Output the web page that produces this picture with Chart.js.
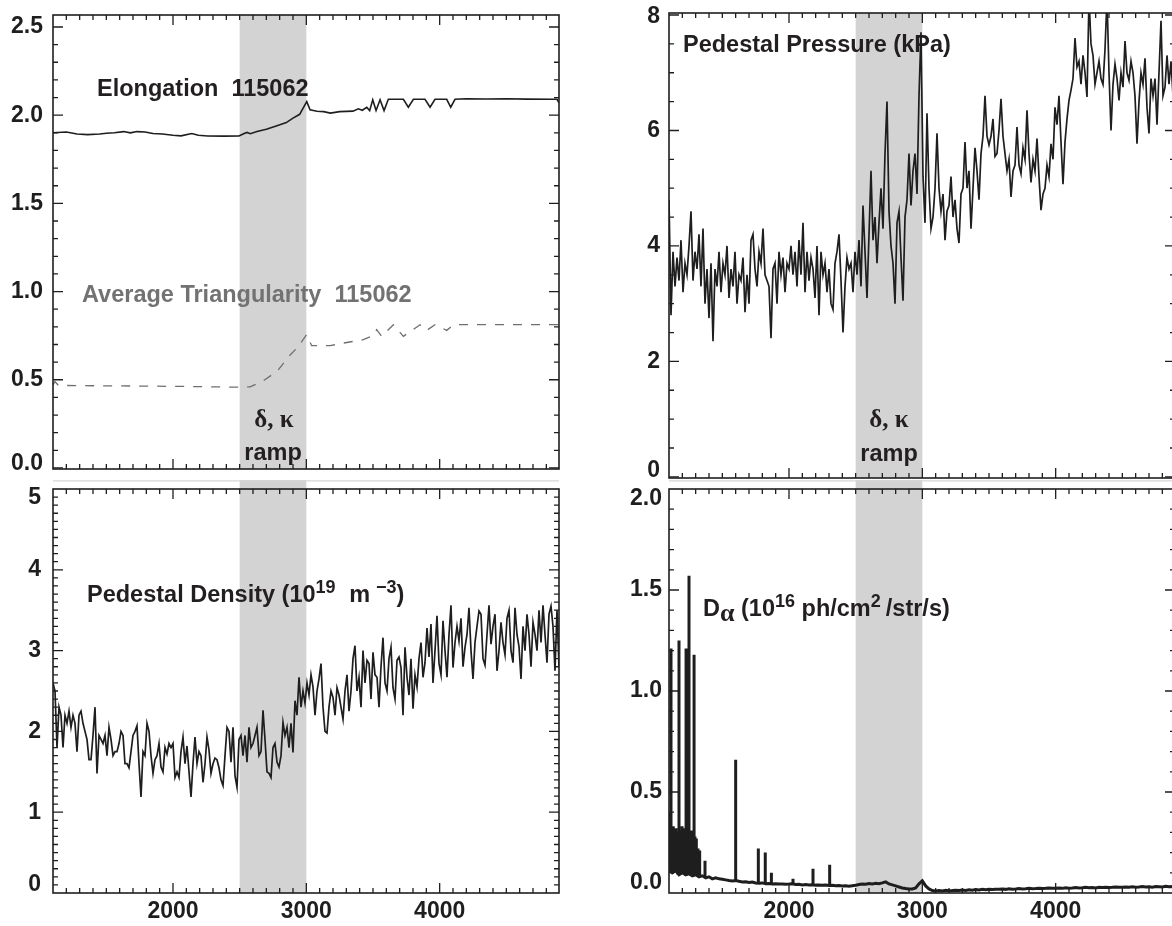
<!DOCTYPE html>
<html>
<head>
<meta charset="utf-8">
<script src="https://cdn.jsdelivr.net/npm/chart.js@4.4.1/dist/chart.umd.min.js"></script>
<style>
  html, body { margin: 0; padding: 0; background: #fff; overflow: hidden; width: 1172px; height: 926px; }
  #wrap { position: relative; width: 1172px; height: 926px; overflow: hidden; }
  canvas { position: absolute; }
  .lbl { position: absolute; font-family: "Liberation Sans", Arial, sans-serif; font-weight: bold; font-size: 23.5px; line-height: 1; white-space: pre; color: #231f20; }
  .grey { color: #727272; }
  .greek { font-family: "Liberation Serif", "DejaVu Serif", serif; font-size: 25px; text-align: center; width: 100px; }
  .ramp { text-align: center; width: 100px; }
  .lbl sup { font-size: 18px; vertical-align: 0; position: relative; top: -9px; line-height: 0; }
  .lbl sub { font-family: "Liberation Serif", serif; font-size: 26px; vertical-align: 0; position: relative; top: 5px; line-height: 0; }
</style>
</head>
<body>
<div id="wrap">
  <canvas id="elongChart" width="572" height="480" style="left:0;top:0"></canvas>
  <canvas id="densityChart" width="572" height="446" style="left:0;top:480px"></canvas>
  <canvas id="pressureChart" width="590" height="480" style="left:600px;top:0"></canvas>
  <canvas id="dalphaChart" width="590" height="446" style="left:600px;top:480px"></canvas>

  <div class="lbl" style="left:97px;top:77px">Elongation  115062</div>
  <div class="lbl grey" style="left:82px;top:283px">Average Triangularity  115062</div>
  <div class="lbl greek" style="left:224px;top:406px">δ, κ</div>
  <div class="lbl ramp" style="left:223px;top:441px">ramp</div>
  <div class="lbl" style="left:87px;top:583px">Pedestal Density (10<sup style="margin-right:7px">19</sup> m<sup style="margin-left:6px">−3</sup>)</div>

  <div class="lbl" style="left:683px;top:33px">Pedestal Pressure (kPa)</div>
  <div class="lbl greek" style="left:839px;top:406px">δ, κ</div>
  <div class="lbl ramp" style="left:839px;top:442px">ramp</div>
  <div class="lbl" style="left:703px;top:597px">D<sub>α</sub> (10<sup>16</sup> ph/cm<sup style="margin-right:5px">2</sup>/str/s)</div>
</div>

<script>
// time axis (ms) and the shaded delta/kappa ramp window
const timeMin = 1100;
const timeMax = 4895;
const rampStart = 2500;
const rampEnd = 3000;

const xMajorTicks = [2000, 3000, 4000];
const xMinorStep = 100;

const elongTicks = [0, 0.5, 1.0, 1.5, 2.0, 2.5];
const densityTicks = [0, 1, 2, 3, 4, 5];
const pressureTicks = [0, 2, 4, 6, 8];
const dalphaTicks = [0, 0.5, 1.0, 1.5, 2.0];

// elongation, shot 115062
const elongTime = [1100, 1200, 1280, 1360, 1450, 1500, 1560, 1630, 1680, 1730, 1790, 1850, 1920, 2000, 2060, 2140, 2190, 2260, 2380, 2495,
  2530, 2555, 2580, 2630, 2700, 2780, 2850, 2900, 2950, 3003, 3028, 3080, 3130, 3180, 3250, 3350, 3390, 3420, 3453, 3475,
  3498, 3523, 3553, 3583, 3615, 3680, 3728, 3765, 3803, 3850, 3890, 3928, 3965, 4010, 4053, 4083, 4115, 4200, 4350, 4500,
  4650, 4853, 4880, 4895];
const elongValue = [1.900, 1.905, 1.893, 1.890, 1.893, 1.898, 1.900, 1.907, 1.900, 1.907, 1.905, 1.896, 1.893, 1.886, 1.883, 1.896, 1.886, 1.882, 1.881, 1.882,
  1.895, 1.902, 1.895, 1.907, 1.920, 1.940, 1.958, 1.983, 2.005, 2.077, 2.030, 2.022, 2.020, 2.012, 2.020, 2.023, 2.036, 2.028, 2.045, 2.026,
  2.087, 2.026, 2.087, 2.026, 2.090, 2.090, 2.090, 2.045, 2.090, 2.090, 2.090, 2.045, 2.090, 2.090, 2.090, 2.045, 2.090, 2.093, 2.092, 2.093,
  2.091, 2.090, 2.090, 2.070];

// average triangularity, shot 115062
const triTime = [1100, 1115, 1140, 1400, 1800, 2078, 2495, 2578, 2668, 2780, 2880, 2930, 3003, 3040, 3178, 3278, 3428, 3500, 3528, 3565,
  3653, 3728, 3853, 3903, 3965, 4053, 4103, 4895];
const triValue = [0.470, 0.490, 0.468, 0.466, 0.464, 0.462, 0.458, 0.460, 0.490, 0.547, 0.642, 0.680, 0.756, 0.693, 0.693, 0.708, 0.727, 0.750, 0.784, 0.746,
  0.812, 0.746, 0.812, 0.780, 0.812, 0.780, 0.812, 0.812];

// pedestal density (1e19 m^-3), sampled every 15 ms from 1100
const densityStart = 1100;
const densityStep = 15;
const densityValue = [
  2.6, 2.5, 1.8, 2.3, 2.2, 1.8, 2.2, 2.1, 2.25, 2.05,
  2.2, 2.1, 1.75, 2.2, 2.25, 2.1, 2.0, 1.9, 1.65, 1.65,
  1.95, 2.3, 1.48, 1.95, 1.9, 1.85, 1.95, 1.7, 2.05, 1.9,
  1.7, 1.75, 1.75, 1.85, 2.0, 1.95, 1.6, 1.6, 1.55, 1.75,
  1.95, 2.0, 2.07, 1.6, 1.19, 1.75, 1.7, 2.1, 2.0, 1.7,
  1.48, 1.65, 1.7, 1.85, 1.56, 1.5, 1.8, 1.72, 1.85, 1.8,
  1.85, 1.43, 1.5, 1.43, 1.75, 1.93, 1.6, 1.82, 1.5, 1.19,
  1.6, 1.93, 1.6, 1.75, 1.7, 1.37, 1.6, 1.93, 1.77, 1.48,
  1.6, 1.67, 1.65, 1.55, 1.4, 1.33, 1.7, 2.05, 2.0, 1.62,
  2.05, 1.45, 1.31, 1.9, 1.95, 1.7, 1.95, 1.62, 2.05, 1.8,
  1.85, 1.95, 2.05, 1.7, 1.75, 2.26, 1.9, 1.5, 1.48, 1.43,
  1.8, 1.85, 1.62, 1.56, 1.7, 2.11, 1.95, 2.05, 1.8, 2.1,
  1.74, 2.38, 2.2, 2.67, 2.3, 2.5, 2.35, 2.6,
  2.45, 2.7, 2.55, 2.2, 2.5, 2.65, 2.84, 2.3, 2.0, 1.98,
  2.3, 2.5, 2.42, 2.2, 2.54, 2.45, 2.3, 2.15, 2.5, 2.7,
  2.25, 2.5, 2.9, 3.06, 2.5, 2.67, 2.3, 3.0, 2.6, 2.88,
  2.84, 2.4, 2.98, 2.7, 2.67, 2.3, 2.8, 3.16, 2.6, 2.5,
  2.9, 3.04, 2.54, 2.4, 2.88, 2.92, 2.79, 2.2, 3.04, 2.67,
  2.45, 2.9, 2.28, 2.7, 2.55, 2.9, 3.1, 2.67, 2.85, 3.28,
  2.92, 3.33, 2.6, 3.0, 3.43, 2.84, 2.7, 3.37, 3.0, 2.67,
  3.2, 3.56, 2.79, 3.1, 3.3, 3.12, 3.4, 2.8, 3.04, 3.2,
  3.53, 3.0, 2.65, 3.1, 3.3, 3.49, 3.45, 2.9, 2.82, 3.2,
  3.56, 3.08, 3.3, 3.45, 2.75, 3.0, 3.35, 3.1, 2.95, 3.4,
  3.5, 3.0, 2.85, 3.53, 3.2, 3.05, 2.65, 3.3, 3.0, 3.45,
  3.2, 2.8, 3.35, 3.2, 3.0, 3.5, 3.1, 3.56, 3.2, 2.85,
  3.45, 3.55, 3.3, 2.75, 3.5, 2.8
];

// pedestal pressure (kPa), sampled every 15 ms from 1100
const pressureStart = 1100;
const pressureStep = 15;
const pressureValue = [
  4.8, 2.8, 3.9, 3.3, 3.8, 3.4, 4.1, 3.2, 3.7, 3.5,
  4.0, 4.6, 3.4, 3.9, 3.6, 4.2, 3.3, 4.3, 3.0, 3.6,
  2.75, 3.7, 2.35, 3.6, 3.3, 3.9, 3.2, 3.7, 3.5, 4.0,
  3.1, 3.6, 3.3, 3.9, 3.0, 3.5, 3.4, 3.8, 2.85, 3.5,
  3.0, 4.1, 4.2, 3.6, 3.3, 3.9, 3.7, 4.3, 3.5, 3.4,
  3.3, 2.4, 3.6, 3.7, 3.0, 3.9, 3.5, 3.8, 3.2, 3.7,
  3.6, 4.0, 3.5, 3.9, 3.3, 4.1, 3.5, 4.4, 3.2, 3.9,
  3.4, 3.8, 3.6, 3.1, 4.0, 2.8, 3.9, 3.5, 3.7, 3.2,
  3.6, 3.0, 2.9, 3.7, 3.9, 4.2, 3.4, 2.5, 3.3, 3.8,
  3.6, 3.7, 3.2, 3.9, 3.5, 4.1, 3.3, 4.7, 3.9, 3.1,
  4.2, 5.3, 4.1, 4.5, 3.7, 4.4, 5.0, 4.3, 5.6, 6.5,
  4.6, 4.0, 3.7, 3.0, 4.4, 4.6, 3.8, 3.05, 4.5, 4.8,
  5.6, 4.7, 5.3, 5.6, 4.9, 6.6, 7.7, 5.2, 4.4, 6.3,
  5.0, 4.3, 4.5, 5.0, 5.95, 5.0, 4.6, 4.9, 4.1, 4.6,
  4.7, 5.2, 4.5, 4.8, 4.3, 4.05, 4.9, 5.0, 5.8, 5.0,
  5.3, 4.3, 5.0, 5.7, 5.3, 4.8, 5.6, 5.9, 6.6, 5.9,
  5.75, 5.9, 6.2, 5.55, 5.6, 6.0, 6.55, 5.9, 5.6, 5.3,
  5.5, 4.85, 5.3, 5.4, 6.06, 5.4, 5.25, 5.7, 5.5, 6.35,
  5.6, 5.1, 5.5, 5.3, 5.86, 5.2, 4.62, 4.9, 5.0, 5.4,
  5.2, 5.77, 5.5, 6.4, 6.1, 6.6, 5.8, 5.07, 5.8, 6.2,
  6.52, 6.7, 6.9, 7.6, 7.1, 7.2, 6.8, 7.3, 7.0, 6.58,
  8.3, 7.5, 7.3, 6.8, 7.0, 7.2, 6.9, 6.8, 7.4, 8.3,
  7.0, 6.0, 6.8, 7.15, 6.9, 6.52, 7.0, 6.75, 7.55, 7.0,
  6.87, 7.2, 7.0, 6.6, 5.77, 6.5, 7.0, 6.8, 7.25, 6.4,
  5.95, 6.9, 6.6, 6.9, 6.1, 7.0, 7.9, 6.6, 6.75, 7.3,
  6.8, 7.2, 6.6, 7.0
];

// D-alpha (1e16 ph/cm^2/str/s): slow baseline every 25 ms plus ELM spikes
const dalphaStart = 1100;
const dalphaStep = 25;
const dalphaBase = [
  0.12, 0.10, 0.11, 0.09, 0.10, 0.09, 0.095, 0.085, 0.09, 0.08, 0.085, 0.075, 0.08, 0.07, 0.075, 0.07,
  0.068, 0.065, 0.062, 0.06, 0.062, 0.058, 0.055, 0.056, 0.052, 0.054, 0.05, 0.048, 0.05, 0.046, 0.047, 0.045, 0.046, 0.044, 0.045, 0.043,
  0.044, 0.046, 0.042, 0.043, 0.04, 0.042, 0.04, 0.041, 0.039, 0.04, 0.038, 0.04, 0.037, 0.038, 0.036, 0.037, 0.035, 0.036, 0.034, 0.036,
  0.038, 0.042, 0.045, 0.043, 0.047, 0.045, 0.048, 0.046, 0.05, 0.055, 0.045, 0.04, 0.035, 0.03, 0.025, 0.022, 0.02, 0.02, 0.025, 0.045,
  0.06, 0.035, 0.02, 0.012, 0.01, 0.012, 0.01, 0.013, 0.011, 0.012, 0.014, 0.012, 0.015, 0.013, 0.016, 0.014, 0.017, 0.015, 0.018, 0.016,
  0.018, 0.017, 0.019, 0.018, 0.02, 0.018, 0.021, 0.019, 0.02, 0.022, 0.02, 0.021, 0.023, 0.021, 0.022, 0.024, 0.022, 0.023, 0.025, 0.023,
  0.024, 0.025, 0.023, 0.026, 0.024, 0.025, 0.027, 0.025, 0.026, 0.028, 0.026, 0.027, 0.025, 0.028, 0.027, 0.029, 0.027, 0.028, 0.03, 0.028,
  0.029, 0.03, 0.028, 0.031, 0.029, 0.03, 0.032, 0.03, 0.031, 0.029, 0.032, 0.031, 0.03, 0.033, 0.031, 0.032, 0.03
];
const spikeTime = [1102, 1108, 1115, 1120, 1126, 1132, 1138, 1145, 1152, 1160, 1168, 1175, 1182, 1190, 1198, 1205, 1212, 1220, 1228, 1236,
  1243, 1250, 1257, 1264, 1272, 1280, 1288, 1295, 1305, 1318, 1330, 1370, 1600, 1770, 1822, 1868, 2030, 2180, 2305];
const spikeValue = [0.40, 0.30, 1.21, 0.32, 0.28, 0.33, 0.30, 0.27, 0.32, 0.30, 0.29, 1.25, 0.31, 0.29, 0.33, 0.30, 0.28, 0.32, 1.21, 0.30,
  0.31, 1.57, 0.30, 0.28, 0.31, 0.29, 1.18, 0.28, 0.27, 0.22, 0.21, 0.16, 0.66, 0.22, 0.20, 0.10, 0.07, 0.12, 0.14];

const inkColor = "#1e1e1e";
const fontFamily = '"Liberation Sans", Arial, sans-serif';
const tickFont = { family: fontFamily, weight: "bold", size: 23 };

function pairPoints(times, values) {
  return times.map((t, i) => ({ x: t, y: values[i] }));
}

function sampledPoints(start, step, values) {
  return values.map((v, i) => ({ x: start + i * step, y: v }));
}

function spikePoints() {
  const points = [];
  spikeTime.forEach((t, i) => {
    const base = dalphaBase[Math.round((t - dalphaStart) / dalphaStep)];
    points.push({ x: t, y: base }, { x: t, y: spikeValue[i] }, { x: t, y: null });
  });
  return points;
}

// shaded ramp window, inward IDL-style ticks, box frame and y labels kept inside the box
const idlFrame = {
  id: "idlFrame",
  beforeDatasetsDraw(chart, args, opts) {
    const { ctx, chartArea, scales } = chart;
    const x0 = scales.x.getPixelForValue(rampStart);
    const x1 = scales.x.getPixelForValue(rampEnd);
    const bleed = opts.bleedTop || 0;
    ctx.save();
    ctx.fillStyle = "#d3d3d3";
    ctx.fillRect(x0, chartArea.top - bleed, x1 - x0, chartArea.bottom - chartArea.top + bleed);
    if (bleed) {
      ctx.strokeStyle = "#d6d6d6";
      ctx.lineWidth = 1.2;
      ctx.beginPath();
      ctx.moveTo(chartArea.left, chartArea.top - bleed + 0.8);
      ctx.lineTo(chartArea.right, chartArea.top - bleed + 0.8);
      ctx.stroke();
    }
    ctx.restore();
  },
  afterDraw(chart, args, opts) {
    const { ctx, chartArea, scales } = chart;
    const { left, right, top, bottom } = chartArea;
    ctx.save();
    ctx.strokeStyle = inkColor;
    ctx.lineWidth = 1.3;
    ctx.beginPath();

    for (let t = timeMin; t <= timeMax; t += xMinorStep) {
      const px = scales.x.getPixelForValue(t);
      if (px <= left + 1 || px >= right - 1) continue;
      const len = xMajorTicks.includes(t) ? 10 : 5;
      ctx.moveTo(px, bottom);
      ctx.lineTo(px, bottom - len);
      ctx.moveTo(px, top);
      ctx.lineTo(px, top + len);
    }

    const yMin = scales.y.min;
    const yMax = scales.y.max;
    const step = opts.yMinorStep;
    for (let k = Math.ceil(yMin / step - 1e-6); k * step <= yMax + 1e-9; k++) {
      const v = k * step;
      const py = scales.y.getPixelForValue(v);
      if (py <= top + 1 || py >= bottom - 1) continue;
      const isMajor = opts.yTicks.some((m) => Math.abs(m - v) < 1e-6);
      const len = isMajor ? 10 : 5;
      ctx.moveTo(left, py);
      ctx.lineTo(left + len, py);
      ctx.moveTo(right, py);
      ctx.lineTo(right - len, py);
    }
    ctx.stroke();

    ctx.lineWidth = 1.6;
    ctx.strokeRect(left, top, right - left, bottom - top);

    // y tick labels; the end labels are pushed inside the box the way IDL does
    ctx.fillStyle = inkColor;
    ctx.font = `bold ${tickFont.size}px ${fontFamily}`;
    ctx.textAlign = "right";
    ctx.textBaseline = "middle";
    opts.yTicks.forEach((v) => {
      const py = scales.y.getPixelForValue(v);
      const cy = Math.min(Math.max(py, top + opts.labelInset[0]), bottom - opts.labelInset[1]);
      ctx.fillText(v.toFixed(opts.decimals), left - opts.yPad, cy);
    });
    ctx.restore();
  },
};

function buildOptions(cfg) {
  return {
    responsive: false,
    animation: false,
    events: [],
    layout: { padding: cfg.padding, autoPadding: false },
    plugins: {
      legend: { display: false },
      tooltip: { enabled: false },
      idlFrame: {
        yTicks: cfg.yTicks,
        yMinorStep: cfg.yMinorStep,
        bleedTop: cfg.bleedTop || 0,
        decimals: cfg.decimals,
        yPad: cfg.yPad,
        labelInset: cfg.labelInset,
      },
    },
    scales: {
      x: {
        type: "linear",
        min: timeMin,
        max: timeMax,
        grid: { display: false, drawTicks: false },
        border: { display: false },
        ticks: {
          display: cfg.showX,
          padding: 5,
          color: inkColor,
          font: tickFont,
          autoSkip: false,
          maxRotation: 0,
          callback: (v) => String(v),
        },
        afterBuildTicks: (scale) => {
          scale.ticks = xMajorTicks.map((v) => ({ value: v }));
        },
        afterFit: (scale) => {
          scale.height = cfg.xHeight;
          scale.paddingLeft = 0;
          scale.paddingRight = 0;
        },
      },
      y: {
        type: "linear",
        min: cfg.yMin,
        max: cfg.yMax,
        grid: { display: false, drawTicks: false },
        border: { display: false },
        ticks: { display: false },
        afterBuildTicks: (scale) => {
          scale.ticks = cfg.yTicks.map((v) => ({ value: v }));
        },
        afterFit: (scale) => {
          scale.width = cfg.yWidth;
          scale.paddingTop = 0;
          scale.paddingBottom = 0;
        },
      },
    },
  };
}

function lineSet(points, color, width, dash) {
  return {
    data: points,
    borderColor: color,
    borderWidth: width,
    borderDash: dash || [],
    pointRadius: 0,
    tension: 0,
    fill: false,
    spanGaps: false,
  };
}

function renderCharts() {
  if (typeof Chart === "undefined") {
    return;
  }

  new Chart(document.querySelector("#elongChart"), {
    type: "line",
    data: {
      datasets: [
        lineSet(pairPoints(elongTime, elongValue), inkColor, 1.6),
        lineSet(pairPoints(triTime, triValue), "#6f6f6f", 1.3, [9, 9]),
      ],
    },
    options: buildOptions({
      yMin: -0.006, yMax: 2.568, yTicks: elongTicks, yMinorStep: 0.1, decimals: 1, labelInset: [9, 5],
      yWidth: 53, yPad: 10, padding: { top: 15, right: 13, bottom: 11, left: 0 }, xHeight: 0, showX: false,
    }),
    plugins: [idlFrame],
  });

  new Chart(document.querySelector("#densityChart"), {
    type: "line",
    data: {
      datasets: [lineSet(sampledPoints(densityStart, densityStep, densityValue), inkColor, 1.7)],
    },
    options: buildOptions({
      yMin: 0, yMax: 5, yTicks: densityTicks, yMinorStep: 0.1, decimals: 0, labelInset: [9, 8],
      yWidth: 53, yPad: 12, padding: { top: 9, right: 13, bottom: 0, left: 0 }, xHeight: 33, showX: true, bleedTop: 9,
    }),
    plugins: [idlFrame],
  });

  new Chart(document.querySelector("#pressureChart"), {
    type: "line",
    data: {
      datasets: [lineSet(sampledPoints(pressureStart, pressureStep, pressureValue), inkColor, 1.7)],
    },
    options: buildOptions({
      yMin: -0.02, yMax: 8.035, yTicks: pressureTicks, yMinorStep: 0.5, decimals: 0, labelInset: [4, 7],
      yWidth: 69, yPad: 9, padding: { top: 13, right: 15, bottom: 2, left: 0 }, xHeight: 0, showX: false,
    }),
    plugins: [idlFrame],
  });

  new Chart(document.querySelector("#dalphaChart"), {
    type: "line",
    data: {
      datasets: [
        lineSet(sampledPoints(dalphaStart, dalphaStep, dalphaBase), inkColor, 3),
        lineSet(spikePoints(), inkColor, 3),
      ],
    },
    options: buildOptions({
      yMin: 0, yMax: 2.0, yTicks: dalphaTicks, yMinorStep: 0.1, decimals: 1, labelInset: [10, 10],
      yWidth: 69, yPad: 7, padding: { top: 9, right: 15, bottom: 0, left: 0 }, xHeight: 33, showX: true, bleedTop: 9,
    }),
    plugins: [idlFrame],
  });
}

renderCharts();
</script>
</body>
</html>
